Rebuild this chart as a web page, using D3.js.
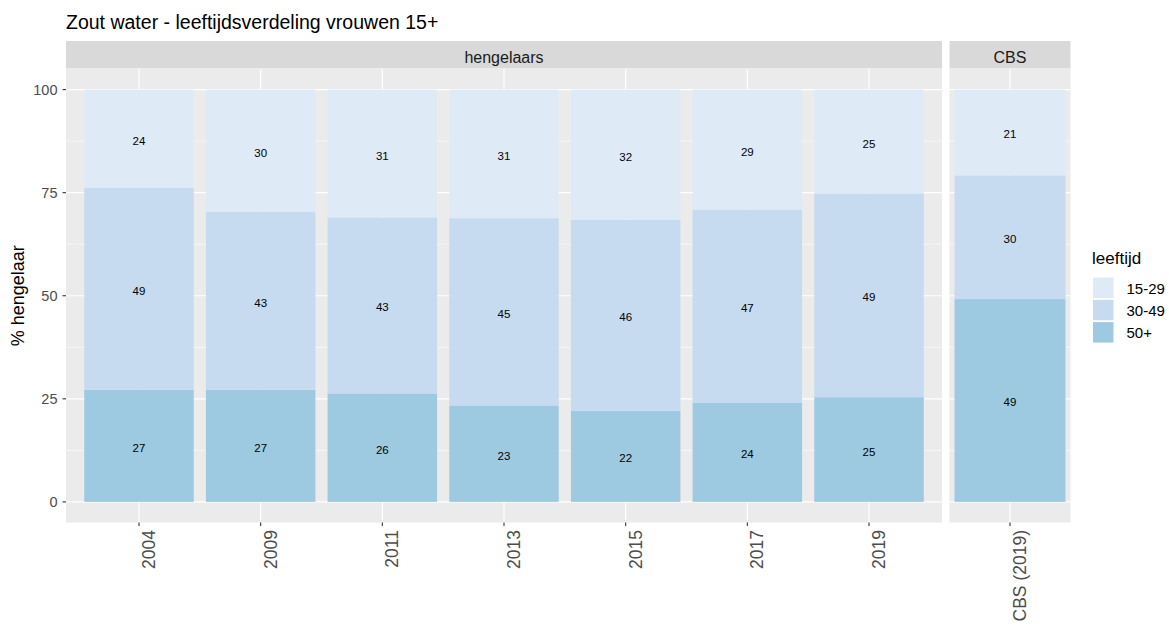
<!DOCTYPE html>
<html>
<head>
<meta charset="utf-8">
<script src="https://cdn.jsdelivr.net/npm/d3@7"></script>
<style>
  body { margin: 0; background: #fff; }
  text { font-family: Arial, "Liberation Sans", sans-serif; }
</style>
</head>
<body>
<svg id="canvas" width="1169" height="628"></svg>
<script>
// data (percent per age group)
let years = ['2004', '2009', '2011', '2013', '2015', '2017', '2019'];
let cbsYears = ['CBS (2019)'];
let ageGroups = ['15-29', '30-49', '50+'];
let ageColors = ['#deebf7', '#c6dbef', '#9ecae1'];

let share50plus = [27.2, 27.2, 26.3, 23.4, 22.1, 24.0, 25.4];
let share30to49 = [49.0, 43.2, 42.7, 45.4, 46.3, 46.9, 49.4];
let share15to29 = [23.8, 29.6, 31.0, 31.2, 31.6, 29.1, 25.2];

let cbs50plus = [49.2];
let cbs30to49 = [30.0];
let cbs15to29 = [20.8];

let yTicks = [0, 25, 50, 75, 100];
let yMinor = [12.5, 37.5, 62.5, 87.5];

let svg = d3.select('#canvas');

let panelTop = 69;
let panelBottom = 522.5;

let y = d3.scaleLinear().domain([-5, 105]).range([panelBottom, panelTop]);

let buildRows = (cats, s50, s30, s15) => {
	return cats.map((c, i) => {
		return { cat: c, '50+': s50[i], '30-49': s30[i], '15-29': s15[i] };
	});
};

let stack = d3.stack().keys(['50+', '30-49', '15-29']);
let colorOf = d3.scaleOrdinal().domain(ageGroups).range(ageColors);

let drawPanel = (rows, x0, x1, stripLabel, barFrac) => {
	let cats = rows.map((r) => r.cat);
	let n = cats.length;
	// ggplot discrete expansion of 0.6 units on each side
	let x = d3.scaleLinear().domain([0.4, n + 0.6]).range([x0, x1]);
	let unit = x(2) - x(1);
	let barW = unit * barFrac;

	let g = svg.append('g');

	g.append('rect')
		.attr('x', x0).attr('y', panelTop)
		.attr('width', x1 - x0).attr('height', panelBottom - panelTop)
		.attr('fill', '#ebebeb');

	g.selectAll('.minor')
		.data(yMinor)
		.enter()
		.append('line')
		.attr('x1', x0).attr('x2', x1)
		.attr('y1', (d) => y(d)).attr('y2', (d) => y(d))
		.attr('stroke', '#fff').attr('stroke-width', 0.6);

	g.selectAll('.major')
		.data(yTicks)
		.enter()
		.append('line')
		.attr('x1', x0).attr('x2', x1)
		.attr('y1', (d) => y(d)).attr('y2', (d) => y(d))
		.attr('stroke', '#fff').attr('stroke-width', 1.2);

	g.selectAll('.vgrid')
		.data(cats)
		.enter()
		.append('line')
		.attr('x1', (d, i) => x(i + 1)).attr('x2', (d, i) => x(i + 1))
		.attr('y1', panelTop).attr('y2', panelBottom)
		.attr('stroke', '#fff').attr('stroke-width', 1.2);

	let series = stack(rows);

	series.forEach((s) => {
		g.selectAll('.bar-' + s.index)
			.data(s)
			.enter()
			.append('rect')
			.attr('x', (d, i) => x(i + 1) - barW / 2)
			.attr('width', barW)
			.attr('y', (d) => y(d[1]))
			.attr('height', (d) => y(d[0]) - y(d[1]))
			.attr('fill', colorOf(s.key));

		g.selectAll('.lab-' + s.index)
			.data(s)
			.enter()
			.append('text')
			.attr('x', (d, i) => x(i + 1))
			.attr('y', (d) => y((d[0] + d[1]) / 2) + 6)
			.attr('text-anchor', 'middle')
			.attr('font-size', 11.5)
			.attr('fill', '#000')
			.text((d) => Math.round(d[1] - d[0]));
	});

	// strip
	g.append('rect')
		.attr('x', x0).attr('y', 41)
		.attr('width', x1 - x0).attr('height', 27.5)
		.attr('fill', '#d9d9d9');
	g.append('text')
		.attr('x', (x0 + x1) / 2).attr('y', 63)
		.attr('text-anchor', 'middle')
		.attr('font-size', 16)
		.attr('fill', '#1a1a1a')
		.text(stripLabel);

	// x ticks and labels
	cats.forEach((c, i) => {
		let cx = x(i + 1);
		g.append('line')
			.attr('x1', cx).attr('x2', cx)
			.attr('y1', panelBottom).attr('y2', panelBottom + 3.5)
			.attr('stroke', '#333').attr('stroke-width', 1.1);
		g.append('text')
			.attr('transform', 'translate(' + (cx + 16) + ',' + (panelBottom + 7.5) + ') rotate(-90)')
			.attr('text-anchor', 'end')
			.attr('font-size', 17.5)
			.attr('fill', '#4d4d4d')
			.text(c);
	});
};

drawPanel(buildRows(years, share50plus, share30to49, share15to29), 66, 942, 'hengelaars', 0.9);
drawPanel(buildRows(cbsYears, cbs50plus, cbs30to49, cbs15to29), 949.5, 1070.5, 'CBS', 1.1);

// y axis
let yAxis = svg.append('g');
yTicks.forEach((t) => {
	yAxis.append('line')
		.attr('x1', 62.5).attr('x2', 66)
		.attr('y1', y(t)).attr('y2', y(t))
		.attr('stroke', '#333').attr('stroke-width', 1.1);
	yAxis.append('text')
		.attr('x', 57.5).attr('y', y(t) + 5.3)
		.attr('text-anchor', 'end')
		.attr('font-size', 14.5)
		.attr('fill', '#4d4d4d')
		.text(t);
});

svg.append('text')
	.attr('transform', 'translate(24,' + y(50) + ') rotate(-90)')
	.attr('text-anchor', 'middle')
	.attr('font-size', 18)
	.attr('fill', '#000')
	.text('% hengelaar');

// title
svg.append('text')
	.attr('x', 66).attr('y', 29)
	.attr('font-size', 19.5)
	.attr('fill', '#000')
	.text('Zout water - leeftijdsverdeling vrouwen 15+');

// legend
let legend = svg.append('g');
legend.append('text')
	.attr('x', 1092).attr('y', 264)
	.attr('font-size', 17)
	.attr('fill', '#000')
	.text('leeftijd');

ageGroups.forEach((a, i) => {
	legend.append('rect')
		.attr('x', 1092.5).attr('y', 277 + i * 22.3)
		.attr('width', 21.5).attr('height', 21.5)
		.attr('fill', colorOf(a))
		.attr('stroke', '#fff').attr('stroke-width', 1);
	legend.append('text')
		.attr('x', 1126.5).attr('y', 293.5 + i * 22.3)
		.attr('font-size', 15)
		.attr('fill', '#000')
		.text(a);
});
</script>
</body>
</html>
